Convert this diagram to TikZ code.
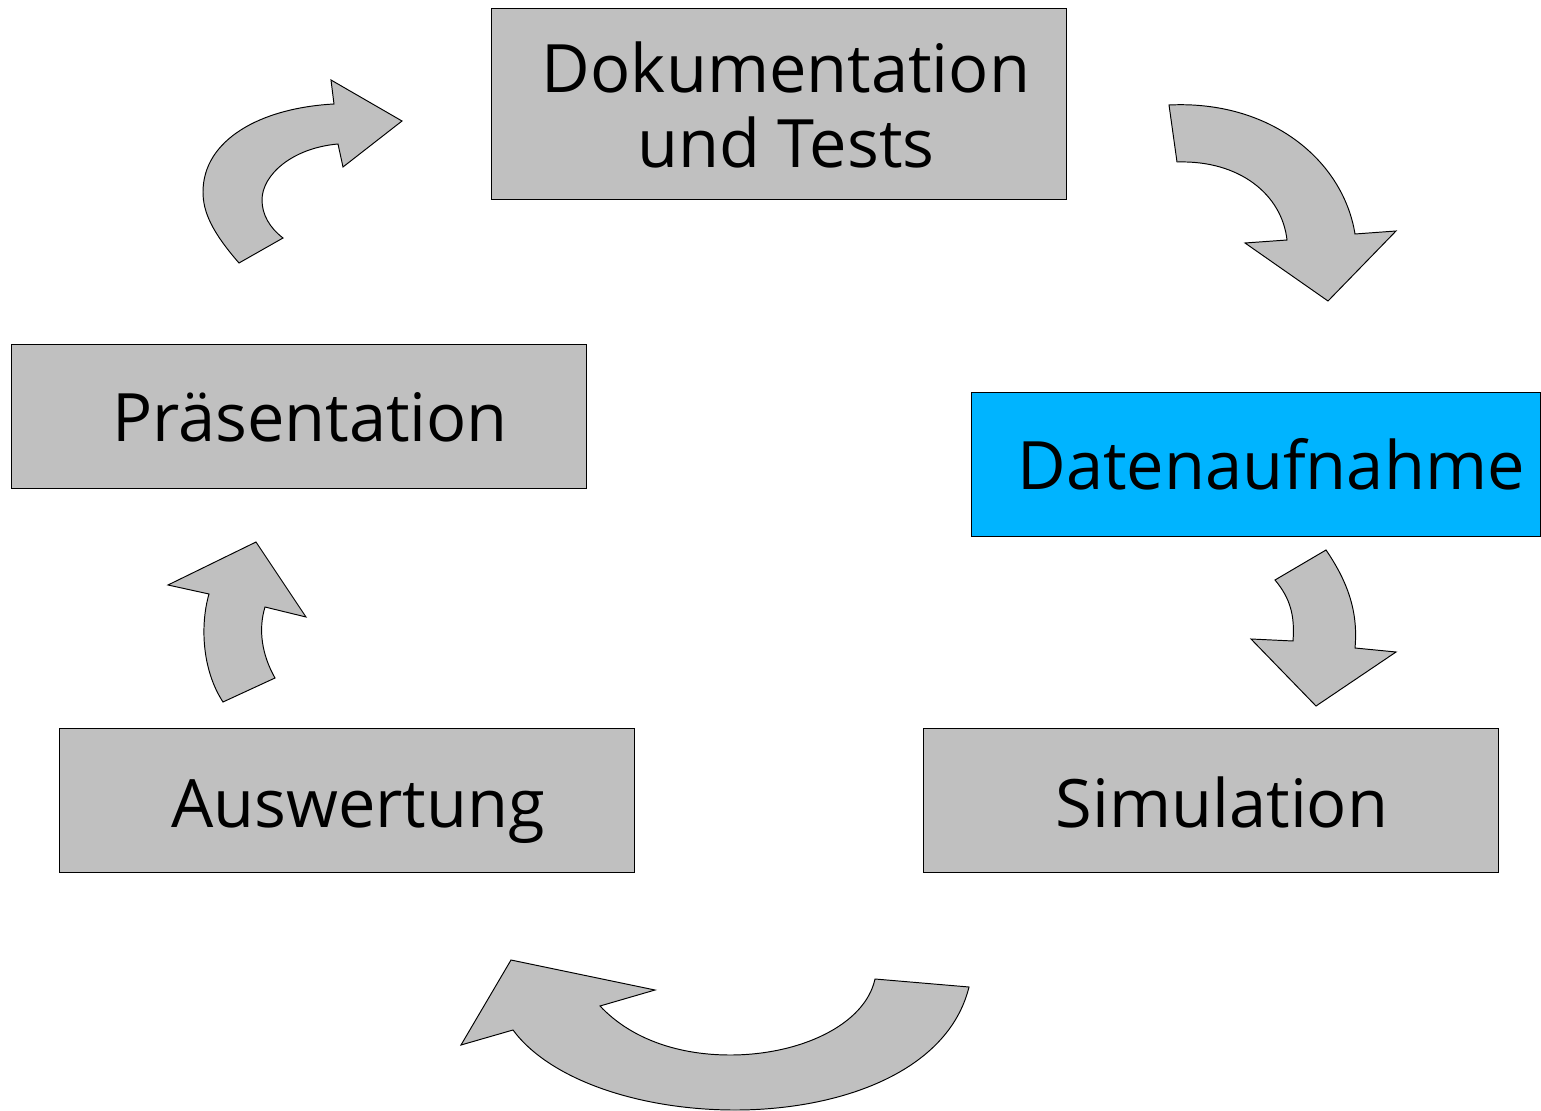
\documentclass[tikz,border=0pt]{standalone}
\usepackage{fontspec}
\setmainfont{Open Sans}
\usetikzlibrary{calc}
\definecolor{boxgray}{RGB}{192,192,192}
\definecolor{datablue}{RGB}{0,180,255}
\tikzset{
  stage/.style={draw=black, line width=0.55pt, fill=boxgray, minimum width=11.52cm, minimum height=2.88cm, inner sep=0pt},
  stagetext/.style={anchor=base, inner sep=0pt, font=\fontsize{38}{42.7}\selectfont, align=center},
  turnarrow/.style={draw=black, line width=0.55pt, fill=boxgray, line join=miter}
}
\begin{document}
\begin{tikzpicture}[x=0.02cm,y=-0.02cm]
\useasboundingbox (0,0) rectangle (1541,1111);
\node [stage, minimum height=3.84cm] (dok) at (779,104) {};
\node [stage] (praes) at (299,416) {};
\node [stage, fill=datablue, minimum width=11.4cm] (daten) at (1256,464) {};
\node [stage] (ausw) at (347,800) {};
\node [stage] (sim) at (1211,800) {};
\node [stagetext] (doktext) at (786,168) {Dokumentation\\und Tests};
\node [stagetext] (praestext) at (310,441) {Präsentation};
\node [stagetext] (datentext) at (1271,489) {Datenaufnahme};
\node [stagetext] (auswtext) at (358,827) {Auswertung};
\node [stagetext] (simtext) at (1222,827) {Simulation};
\draw [turnarrow] (239,263) .. controls (212,232) and (203,212) .. (203,192)
  .. controls (203,140) and (260,108) .. (334,104) -- (331,80) -- (402,121) -- (343,167) -- (338,144)
  .. controls (292,148) and (262,175) .. (262,200) .. controls (262,215) and (270,228) .. (283,238) -- cycle;
\draw [turnarrow] (1169,105) .. controls (1270,100) and (1343,160) .. (1355,234) -- (1396,231) -- (1328,301)
  -- (1245,243) -- (1287,240) .. controls (1282,195) and (1240,160) .. (1177,162) -- cycle;
\draw [turnarrow] (1326,550) .. controls (1350,585) and (1358,615) .. (1355,648) -- (1396,652) -- (1316,706)
  -- (1251,639) -- (1293,641) .. controls (1295,615) and (1290,598) .. (1275,580) -- cycle;
\draw [turnarrow] (969,987) .. controls (948,1072) and (840,1110) .. (735,1110)
  .. controls (640,1110) and (550,1080) .. (513,1030) -- (461,1045) -- (511,960) -- (655,990) -- (600,1006)
  .. controls (632,1040) and (680,1055) .. (730,1055) .. controls (800,1055) and (865,1025) .. (875,979) -- cycle;
\draw [turnarrow] (223,702) .. controls (202,670) and (200,625) .. (209,594) -- (168,585) -- (256,542)
  -- (306,617) -- (265,607) .. controls (258,630) and (262,655) .. (275,678) -- cycle;
\end{tikzpicture}
\end{document}
